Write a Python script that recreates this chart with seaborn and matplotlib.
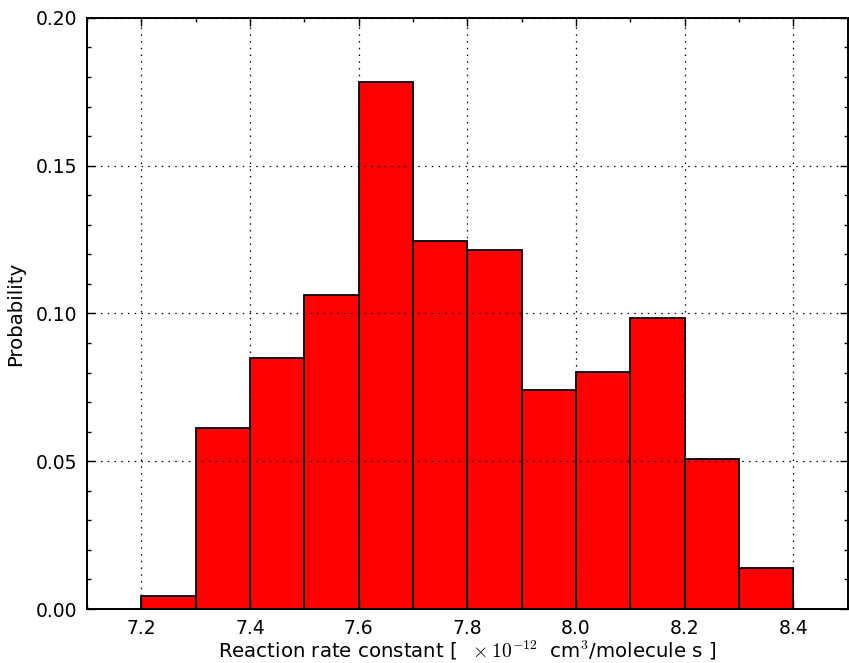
import numpy as np
import matplotlib
matplotlib.use("Agg")
import matplotlib.pyplot as plt
from matplotlib.ticker import MultipleLocator
import seaborn as sns

# Histogram of the sampled reaction rate constant (probability per bin)
bin_edges = [7.2, 7.3, 7.4, 7.5, 7.6, 7.7, 7.8, 7.9, 8.0, 8.1, 8.2, 8.3, 8.4]
bin_probability = [0.0045, 0.0614, 0.0850, 0.1061, 0.1784, 0.1246,
                   0.1216, 0.0740, 0.0801, 0.0985, 0.0509, 0.0139]

x_ticks = [7.2, 7.4, 7.6, 7.8, 8.0, 8.2, 8.4]
y_ticks = [0.00, 0.05, 0.10, 0.15, 0.20]

sns.set_style("white")
plt.rcParams["font.family"] = ["DejaVu Sans"]
plt.rcParams["mathtext.fontset"] = "cm"
plt.rcParams["text.color"] = "black"
plt.rcParams["axes.labelcolor"] = "black"

centers = [(a + b) / 2 for a, b in zip(bin_edges[:-1], bin_edges[1:])]

fig, ax = plt.subplots(figsize=(8.49, 6.63), dpi=100)
fig.subplots_adjust(left=0.1025, right=0.9985, top=0.973, bottom=0.0814)

sns.histplot(x=centers, weights=bin_probability, bins=bin_edges, stat="count",
             color="#ff0000", alpha=1.0, edgecolor="black", linewidth=1.3, ax=ax)

ax.set_xlim(7.1, 8.5)
ax.set_ylim(0.0, 0.2)
ax.set_xticks(x_ticks)
ax.set_yticks(y_ticks)
ax.set_xticklabels([f"{v:.1f}" for v in x_ticks])
ax.set_yticklabels([f"{v:.2f}" for v in y_ticks])
ax.xaxis.set_minor_locator(MultipleLocator(0.1))
ax.yaxis.set_minor_locator(MultipleLocator(0.01))

ax.tick_params(which="both", direction="in", top=True, right=True,
               bottom=True, left=True, colors="black", labelsize=13.5)
ax.tick_params(which="major", length=6, width=1.0, pad=7)
ax.tick_params(which="minor", length=3, width=1.0)

for sp in ax.spines.values():
    sp.set_visible(True)
    sp.set_color("black")
    sp.set_linewidth(1.4)

ax.set_axisbelow(False)
ax.grid(True, which="major", linestyle=(0, (1.2, 4.2)), color="black",
        linewidth=0.9)

ax.set_xlabel(r"Reaction rate constant [ $\ \times 10^{-12}\ $ cm$^3$/molecule s ]",
              fontsize=14.2, labelpad=1, color="black")
ax.set_ylabel("Probability", fontsize=14.2, labelpad=8, color="black")

fig.savefig("out.png", dpi=100)
